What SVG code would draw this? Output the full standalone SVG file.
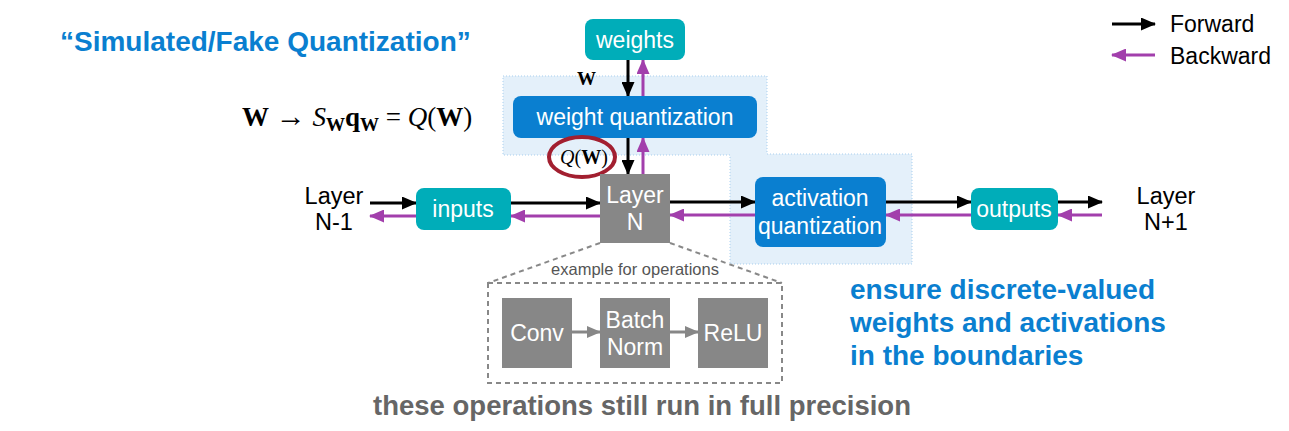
<svg xmlns="http://www.w3.org/2000/svg" width="1289" height="431" viewBox="0 0 1289 431">
<style>
.sans{font-family:"Liberation Sans",Arial,sans-serif}
.serif{font-family:"Liberation Serif","Times New Roman",serif}
.teal{fill:#00adb9}
.blue{fill:#0a7fd0}
.gray{fill:#878787}
.wt{fill:#fff;font-size:23px;text-anchor:middle}
.bt{fill:#000;font-size:23.5px;text-anchor:middle}
.fw{stroke:#000;stroke-width:3;fill:none}
.bw{stroke:#a23fac;stroke-width:3;fill:none}
.op{stroke:#878787;stroke-width:3;fill:none}
.dash{stroke:#888;stroke-width:2;stroke-dasharray:5 4;fill:none}
</style>
<defs>
<marker id="hf" markerUnits="userSpaceOnUse" markerWidth="15" markerHeight="13" refX="14" refY="6.5" orient="auto"><path d="M0,0 L15,6.5 L0,13 Z" fill="#000"/></marker>
<marker id="hb" markerUnits="userSpaceOnUse" markerWidth="15" markerHeight="13" refX="14" refY="6.5" orient="auto"><path d="M0,0 L15,6.5 L0,13 Z" fill="#a23fac"/></marker>
<marker id="hg" markerUnits="userSpaceOnUse" markerWidth="14" markerHeight="12" refX="13" refY="6" orient="auto"><path d="M0,0 L14,6 L0,12 Z" fill="#878787"/></marker>
</defs>
<rect width="1289" height="431" fill="#fff"/>

<g id="quant-region">
<path d="M503,76 H767 V154 H912 V264 H730 V155 H503 Z" fill="#e4f0fa" stroke="#a9cfee" stroke-width="1" stroke-dasharray="1 2"/>
</g>

<g id="title">
<text x="60" y="51" class="sans" font-size="28" font-weight="bold" fill="#0a7fd0">“Simulated/Fake Quantization”</text>
</g>

<g id="equation">
<text x="242" y="126" class="serif" font-size="27" fill="#000"><tspan font-weight="bold">W</tspan> <tspan font-size="30">→</tspan> <tspan font-style="italic">S</tspan><tspan font-weight="bold" font-size="19" dy="5">W</tspan><tspan font-weight="bold" dy="-5">q</tspan><tspan font-weight="bold" font-size="19" dy="5">W</tspan><tspan dy="-5"> = </tspan><tspan font-style="italic">Q</tspan>(<tspan font-weight="bold">W</tspan>)</text>
</g>

<g id="legend">
<line x1="1112" y1="24" x2="1155" y2="24" class="fw" marker-end="url(#hf)"/>
<text x="1170" y="32" class="sans" font-size="23" fill="#000">Forward</text>
<line x1="1155" y1="55" x2="1112" y2="55" class="bw" marker-end="url(#hb)"/>
<text x="1170" y="64" class="sans" font-size="23" fill="#000">Backward</text>
</g>

<g id="connectors">
<line x1="628" y1="60" x2="628" y2="96" class="fw" marker-end="url(#hf)"/>
<line x1="643" y1="96" x2="643" y2="60" class="bw" marker-end="url(#hb)"/>
<line x1="628" y1="138" x2="628" y2="174" class="fw" marker-end="url(#hf)"/>
<line x1="643" y1="174" x2="643" y2="138" class="bw" marker-end="url(#hb)"/>
<line x1="370" y1="203" x2="416" y2="203" class="fw" marker-end="url(#hf)"/>
<line x1="416" y1="216" x2="370" y2="216" class="bw" marker-end="url(#hb)"/>
<line x1="511" y1="203" x2="600" y2="203" class="fw" marker-end="url(#hf)"/>
<line x1="600" y1="216" x2="511" y2="216" class="bw" marker-end="url(#hb)"/>
<line x1="670" y1="202" x2="755" y2="202" class="fw" marker-end="url(#hf)"/>
<line x1="755" y1="215" x2="670" y2="215" class="bw" marker-end="url(#hb)"/>
<line x1="886" y1="202" x2="971" y2="202" class="fw" marker-end="url(#hf)"/>
<line x1="971" y1="215" x2="886" y2="215" class="bw" marker-end="url(#hb)"/>
<line x1="1058" y1="202" x2="1102" y2="202" class="fw" marker-end="url(#hf)"/>
<line x1="1102" y1="215" x2="1058" y2="215" class="bw" marker-end="url(#hb)"/>
<line x1="600" y1="243" x2="488" y2="283" class="dash"/>
<line x1="670" y1="243" x2="782" y2="283" class="dash"/>
<line x1="572" y1="332" x2="600" y2="332" class="op" marker-end="url(#hg)"/>
<line x1="670" y1="332" x2="698" y2="332" class="op" marker-end="url(#hg)"/>
</g>

<g id="weights">
<rect x="585" y="19" width="100" height="41" rx="8" class="teal"/>
<text x="635" y="48" class="sans wt">weights</text>
</g>
<g id="w-label">
<text x="577" y="85" class="serif" font-size="19" font-weight="bold" fill="#000">W</text>
</g>
<g id="weight-quantization">
<rect x="513" y="96" width="244" height="42" rx="8" class="blue"/>
<text x="635" y="125" class="sans wt">weight quantization</text>
</g>
<g id="qw-label">
<ellipse cx="582" cy="157" rx="33" ry="20" fill="none" stroke="#a21f30" stroke-width="4"/>
<text x="584" y="164" class="serif" font-size="20" fill="#000" text-anchor="middle"><tspan font-style="italic">Q</tspan>(<tspan font-weight="bold">W</tspan>)</text>
</g>

<g id="layer-n-1">
<text x="334" y="204" class="sans bt">Layer</text>
<text x="334" y="230" class="sans bt">N-1</text>
</g>
<g id="inputs">
<rect x="416" y="188" width="95" height="42" rx="8" class="teal"/>
<text x="463" y="217" class="sans wt">inputs</text>
</g>
<g id="layer-n">
<rect x="600" y="174" width="70" height="69" class="gray"/>
<text x="635" y="203" class="sans wt">Layer</text>
<text x="635" y="230" class="sans wt">N</text>
</g>
<g id="activation-quantization">
<rect x="755" y="177" width="131" height="70" rx="8" class="blue"/>
<text x="820" y="206" class="sans wt">activation</text>
<text x="820" y="234" class="sans wt">quantization</text>
</g>
<g id="outputs">
<rect x="971" y="188" width="87" height="42" rx="8" class="teal"/>
<text x="1014" y="217" class="sans wt">outputs</text>
</g>
<g id="layer-n1">
<text x="1166" y="204" class="sans bt">Layer</text>
<text x="1166" y="230" class="sans bt">N+1</text>
</g>

<g id="operations">
<rect x="488" y="283" width="294" height="100" fill="#f2f2f2" class="dash"/>
<text x="635" y="275" class="sans" font-size="16.5" fill="#555" text-anchor="middle">example for operations</text>
</g>
<g id="conv">
<rect x="502" y="298" width="70" height="70" class="gray"/>
<text x="537" y="341" class="sans wt">Conv</text>
</g>
<g id="batch-norm">
<rect x="600" y="298" width="70" height="70" class="gray"/>
<text x="635" y="328" class="sans wt">Batch</text>
<text x="635" y="355" class="sans wt">Norm</text>
</g>
<g id="relu">
<rect x="698" y="298" width="70" height="70" class="gray"/>
<text x="733" y="341" class="sans wt">ReLU</text>
</g>

<g id="notes">
<text x="642" y="415" class="sans" font-size="27.5" font-weight="bold" fill="#666" text-anchor="middle">these operations still run in full precision</text>
<text class="sans" font-size="28" font-weight="bold" fill="#0a7fd0"><tspan x="850" y="299">ensure discrete-valued</tspan><tspan x="850" y="332">weights and activations</tspan><tspan x="850" y="365">in the boundaries</tspan></text>
</g>
</svg>
